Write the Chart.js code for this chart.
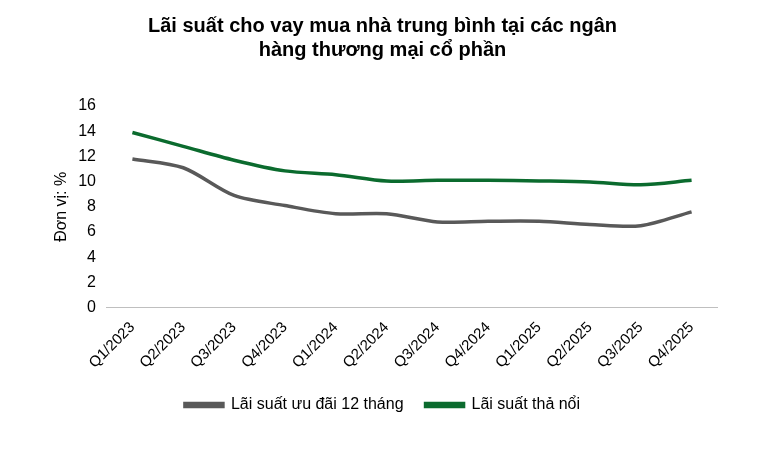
<!DOCTYPE html>
<html><head><meta charset="utf-8">
<script src="https://cdn.jsdelivr.net/npm/chart.js@4"></script>
<style>html,body{margin:0;background:#fff}#wrap{width:757px;height:451px}</style>
</head><body><div id="wrap"><canvas id="c"></canvas></div>
<script>
const LABELS = ["Q1/2023","Q2/2023","Q3/2023","Q4/2023","Q1/2024","Q2/2024","Q3/2024","Q4/2024","Q1/2025","Q2/2025","Q3/2025","Q4/2025"];
const UU_DAI = [11.8,11.1,8.9,8.1,7.45,7.45,6.8,6.85,6.85,6.6,6.5,7.6];
const THA_NOI = [13.9,12.8,11.7,10.85,10.55,10.05,10.1,10.1,10.05,9.97,9.75,10.1];
const Y_TICKS = [0,2,4,6,8,10,12,14,16];

new Chart(document.getElementById("c"), {
  type: "line",
  data: { labels: LABELS, datasets: [
    { label: "Lãi suất ưu đãi 12 tháng", data: UU_DAI, borderColor: "#595959", backgroundColor: "#595959", borderWidth: 3.5, pointRadius: 0, tension: 0.3 },
    { label: "Lãi suất thả nổi", data: THA_NOI, borderColor: "#0b6b2e", backgroundColor: "#0b6b2e", borderWidth: 3.5, pointRadius: 0, tension: 0.3 }
  ]},
  options: {
    responsive: true, maintainAspectRatio: false, animation: false,
    layout: { padding: { left: 48, right: 40, top: 4, bottom: 28 } },
    plugins: {
      title: { display: true, text: ["Lãi suất cho vay mua nhà trung bình tại các ngân", "hàng thương mại cổ phần"],
        color: "#000", font: { family: "Liberation Sans", size: 20, weight: "bold" }, padding: { top: 10, bottom: 44 } },
      legend: { position: "bottom", labels: { color: "#000", font: { family: "Liberation Sans", size: 16 }, boxWidth: 38, boxHeight: 3, padding: 22 } }
    },
    scales: {
      x: { offset: true, grid: { display: false }, border: { color: "#bfbfbf" },
        ticks: { color: "#000", font: { family: "Liberation Sans", size: 15 }, maxRotation: 45, minRotation: 45 } },
      y: { min: 0, max: 16, grid: { display: false }, border: { display: false },
        afterBuildTicks: a => { a.ticks = Y_TICKS.map(v => ({ value: v })); },
        ticks: { color: "#000", font: { family: "Liberation Sans", size: 16 } },
        title: { display: true, text: "Đơn vị: %", color: "#000", font: { family: "Liberation Sans", size: 16 } } }
    }
  }
});
</script></body></html>
